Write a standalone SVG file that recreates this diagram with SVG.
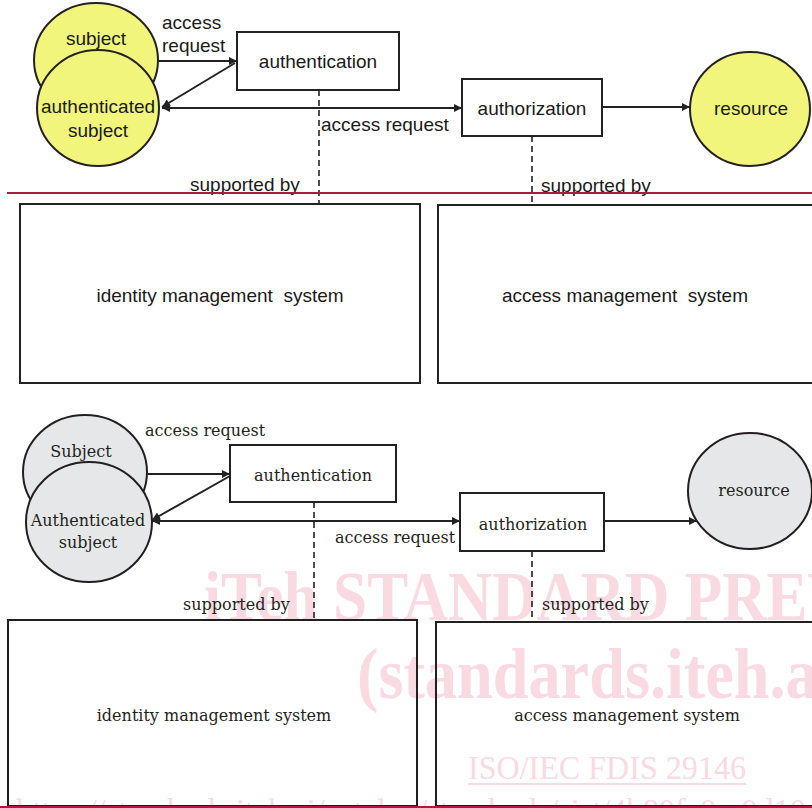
<svg xmlns="http://www.w3.org/2000/svg" width="812" height="808" viewBox="0 0 812 808">
<style>
.wm{fill:#f9dae2;font-family:"Liberation Serif",serif}
.sans{font-family:"Liberation Sans",Arial,sans-serif;font-size:19px;fill:#1a1a1a;white-space:pre}
.serif{font-family:"DejaVu Serif","Liberation Serif",serif;font-size:16px;fill:#231f20;white-space:pre}
.mid{text-anchor:middle}
.box{fill:#fff;stroke:#222;stroke-width:2}
.obox{fill:none;stroke:#231f20;stroke-width:2}
.ycirc{fill:#f1f57b;stroke:#222;stroke-width:2}
.gcirc{fill:#e6e7e8;stroke:#231f20;stroke-width:2}
.ln{fill:none;stroke:#222;stroke-width:2}
.dash{fill:none;stroke:#222;stroke-width:1.6;stroke-dasharray:6 4}
.red{stroke:#b3173b;stroke-width:2}
</style>
<defs>
<marker id="ah" viewBox="0 0 10 10" refX="10" refY="5" markerWidth="9" markerHeight="8" orient="auto-start-reverse" markerUnits="userSpaceOnUse">
<path d="M0,0 L10,5 L0,10 z" fill="#222"/>
</marker>
</defs>
<rect width="812" height="808" fill="#fff"/>
<g id="watermark">
<text class="wm" x="204" y="620" font-size="70" font-weight="bold" textLength="774" lengthAdjust="spacingAndGlyphs">iTeh STANDARD PREVIEW</text>
<text class="wm" x="357" y="698" font-size="72" font-weight="bold" textLength="500" lengthAdjust="spacingAndGlyphs">(standards.iteh.ai)</text>
<text class="wm" x="468" y="779" font-size="33" textLength="278" lengthAdjust="spacingAndGlyphs">ISO/IEC FDIS 29146</text>
<line x1="468" y1="784" x2="746" y2="784" stroke="#f9dae2" stroke-width="2"/>
<text class="wm" x="16" y="822" font-size="33" textLength="790" lengthAdjust="spacingAndGlyphs">https://standards.iteh.ai/catalog/standards/sist/4b80fa0e-0d10</text>
</g>
<g id="top-figure">
<g id="t-subject"><ellipse class="ycirc" cx="96" cy="60" rx="62" ry="57"/><text class="sans mid" x="96" y="45">subject</text></g>
<g id="t-authsubject"><ellipse class="ycirc" cx="98" cy="108" rx="61" ry="58"/><text class="sans mid" x="98" y="113">authenticated</text><text class="sans mid" x="98" y="137">subject</text></g>
<g id="t-authentication"><rect class="box" x="237" y="32" width="162" height="58"/><text class="sans mid" x="318" y="68">authentication</text></g>
<g id="t-authorization"><rect class="box" x="462" y="79" width="140" height="57"/><text class="sans mid" x="532" y="115">authorization</text></g>
<g id="t-resource"><ellipse class="ycirc" cx="750" cy="109" rx="60" ry="57"/><text class="sans mid" x="751" y="115">resource</text></g>
<g id="t-idm"><rect class="box" x="20" y="204" width="400" height="179"/><text class="sans mid" x="220" y="302">identity management  system</text></g>
<g id="t-acm"><rect class="box" x="438" y="205" width="390" height="178"/><text class="sans mid" x="625" y="302">access management  system</text></g>
<g id="t-connectors">
<line class="ln" x1="158" y1="61" x2="237" y2="61" marker-end="url(#ah)"/>
<line class="ln" x1="235" y1="63" x2="162" y2="107" marker-end="url(#ah)"/>
<line class="ln" x1="162" y1="108" x2="462" y2="108" marker-start="url(#ah)" marker-end="url(#ah)"/>
<line class="ln" x1="602" y1="107" x2="690" y2="107" marker-end="url(#ah)"/>
<line class="dash" x1="319" y1="90" x2="319" y2="204"/>
<line class="dash" x1="532" y1="136" x2="532" y2="205"/>
<text class="sans" x="162" y="29">access</text>
<text class="sans" x="162" y="52">request</text>
<text class="sans" x="321" y="131">access request</text>
<text class="sans" x="190" y="191">supported by</text>
<text class="sans" x="541" y="192">supported by</text>
</g>
</g>
<line class="red" x1="7" y1="193" x2="812" y2="193"/>
<g id="bottom-figure">
<g id="b-subject"><ellipse class="gcirc" cx="85" cy="472" rx="62" ry="57"/><text class="serif mid" x="81" y="457">Subject</text></g>
<g id="b-authsubject"><ellipse class="gcirc" cx="89" cy="522" rx="63" ry="60"/><text class="serif mid" x="88" y="526">Authenticated</text><text class="serif mid" x="88" y="548">subject</text></g>
<g id="b-authentication"><rect class="box" x="230" y="445" width="166" height="57"/><text class="serif mid" x="313" y="481">authentication</text></g>
<g id="b-authorization"><rect class="box" x="460" y="493" width="144" height="58"/><text class="serif mid" x="533" y="530">authorization</text></g>
<g id="b-resource"><ellipse class="gcirc" cx="750" cy="491" rx="62" ry="58"/><text class="serif mid" x="754" y="496">resource</text></g>
<g id="b-idm"><rect class="obox" x="8" y="620" width="409" height="186"/><text class="serif mid" x="214" y="721">identity management system</text></g>
<g id="b-acm"><rect class="obox" x="436" y="622" width="390" height="184"/><text class="serif mid" x="627" y="721">access management system</text></g>
<g id="b-connectors">
<line class="ln" x1="148" y1="474" x2="230" y2="474" marker-end="url(#ah)"/>
<line class="ln" x1="230" y1="476" x2="152" y2="520" marker-end="url(#ah)"/>
<line class="ln" x1="152" y1="521" x2="460" y2="521" marker-start="url(#ah)" marker-end="url(#ah)"/>
<line class="ln" x1="604" y1="521" x2="697" y2="521" marker-end="url(#ah)"/>
<line class="dash" x1="314" y1="502" x2="314" y2="620"/>
<line class="dash" x1="532" y1="551" x2="532" y2="622"/>
<text class="serif" x="145" y="436">access request</text>
<text class="serif" x="335" y="543">access request</text>
<text class="serif" x="183" y="610">supported by</text>
<text class="serif" x="542" y="610">supported by</text>
</g>
</g>
<line class="red" x1="0" y1="807" x2="812" y2="807"/>
</svg>
